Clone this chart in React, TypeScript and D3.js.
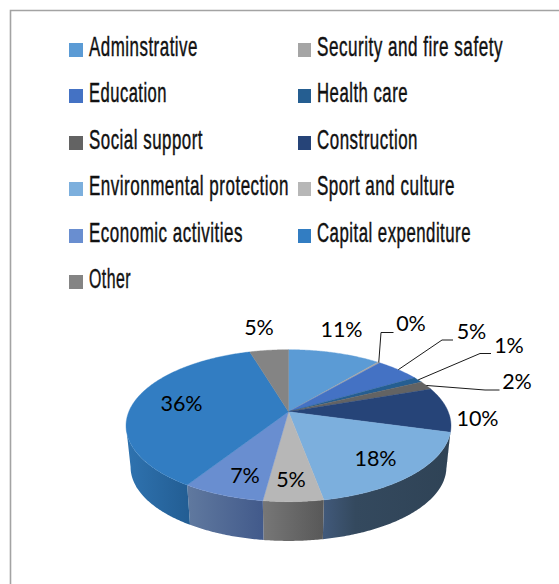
import React, { useLayoutEffect, useRef } from "react";
import * as d3 from "d3";

// Budget categories, in drawing order clockwise from twelve o'clock.
const categories = [
  "Adminstrative",
  "Security and fire safety",
  "Education",
  "Health care",
  "Social support",
  "Construction",
  "Environmental protection",
  "Sport and culture",
  "Economic activities",
  "Capital expenditure",
  "Other",
];

// Share of the total, in percent.
const shares = [11.0, 0.3, 5.3, 1.2, 1.9, 9.6, 17.8, 5.0, 6.9, 36.4, 4.6];

const topColors = [
  "#5b9bd5", "#a5a5a5", "#4472c4", "#255e91", "#636363", "#264478",
  "#7cafdd", "#b7b7b7", "#698ed0", "#327dc2", "#848484",
];

// Start and end colours of each slice's outer wall.
const wallStart = [
  "#3f7fb8", "#777777", "#32558f", "#1b4568", "#494949", "#1f3a63",
  "#41597a", "#777777", "#60799f", "#2f73b0", "#606060",
];
const wallEnd = [
  "#3f7fb8", "#777777", "#32558f", "#1b4568", "#494949", "#1d3557",
  "#2f4356", "#585858", "#425a8b", "#235e94", "#606060",
];

// Legend layout: two columns filled row by row.
const legendRows = [43, 89, 136, 182, 229, 275];
const legendColumns = [69, 298];
const legendSwatchWidths = [14, 13];
const legendTextOffsets = [20, 19];
const legendTextWidths = [109, 186, 78, 91, 114, 101, 200, 138, 154, 154, 42];

// Centre of each percent label.
const labelCentres: [number, number][] = [
  [341.5, 328.5], [411, 322.5], [471.5, 330.5], [509, 344.5], [517, 380.5], [477.5, 417.5],
  [375.5, 457.5], [291, 478.5], [245, 474.5], [181.5, 402.5], [259, 326.5],
];

// Elbow and end of the leader lines, keyed by slice index.
const leaders: Record<number, [[number, number], [number, number]]> = {
  1: [[381, 332.5], [393.5, 332.5]],
  2: [[442, 340], [453, 340]],
  3: [[480, 353.5], [491, 353.5]],
  4: [[485, 390], [499.5, 390]],
};

// Perspective disc: the far edge is foreshortened relative to the near edge.
const centreX = 288.5;
const topCentreY = 411.7;
const bottomCentreY = 453.5;
const radiusX = 159.7;
const radiusY = 73.4;
const perspective = 0.184;
const bottomScale = 0.972;

// Angles at which the rim turns away: only the wall between them can be seen.
const wallFrom = Math.acos(-perspective);
const wallTo = 2 * Math.PI - wallFrom;

const project = (theta: number, level: "top" | "bottom", r = 1): [number, number] => {
  const u = Math.sin(theta) * r;
  const v = -Math.cos(theta) * r;
  const s = 1 / (1 - perspective * v);
  const k = level === "top" ? 1 : bottomScale;
  const cy = level === "top" ? topCentreY : bottomCentreY;
  return [centreX + radiusX * k * u * s, cy + radiusY * k * v * s];
};

const slices = d3.pie<number>().sort(null).value((d) => d)(shares);
const line = d3.line();

const arcPoints = (a: number, b: number, level: "top" | "bottom") => {
  const n = Math.max(2, Math.ceil((b - a) / 0.01));
  return d3.range(n + 1).map((i) => project(a + ((b - a) * i) / n, level));
};

const wallRange = (a: number, b: number): [number, number] | null => {
  const from = Math.max(a, wallFrom);
  const to = Math.min(b, wallTo);
  return from < to ? [from, to] : null;
};

// A condensed legend label: narrowed horizontally to its measured target width.
function LegendLabel({ x, y, width, children }: { x: number; y: number; width: number; children: string }) {
  const ref = useRef<SVGTextElement>(null);
  useLayoutEffect(() => {
    const el = ref.current;
    if (!el) return;
    const natural = el.getComputedTextLength();
    el.setAttribute("transform", `translate(${x},${y}) scale(${width / natural},1)`);
  }, [x, y, width]);
  return (
    <text
      ref={ref}
      transform={`translate(${x},${y}) scale(0.6,1)`}
      fontFamily="'Liberation Sans Narrow', 'Liberation Sans'"
      fontSize={27}
      letterSpacing={0.8}
      fill="#111"
      stroke="#111"
      strokeWidth={0.45}
    >
      {children}
    </text>
  );
}

export default function App() {
  return (
    <svg
      width={559}
      height={584}
      style={{ position: "absolute", left: 0, top: 0, display: "block", background: "#fff" }}
    >
      <defs>
        {slices.map((s, i) => {
          const range = wallRange(s.startAngle, s.endAngle);
          if (!range) return null;
          const xs = arcPoints(range[0], range[1], "top").map((p) => p[0]);
          const [x0, x1] = d3.extent(xs) as [number, number];
          return (
            <linearGradient
              key={i}
              id={`wall-${i}`}
              gradientUnits="userSpaceOnUse"
              x1={x0}
              x2={x1}
              y1={0}
              y2={0}
            >
              <stop offset="0" stopColor={wallStart[i]} />
              {i === 6 && <stop offset="0.25" stopColor="#34495e" />}
              <stop offset="1" stopColor={wallEnd[i]} />
            </linearGradient>
          );
        })}
      </defs>

      <path d="M10.5 584V10.5H559" fill="none" stroke="#a3a3a3" strokeWidth={1.6} />

      {categories.map((name, i) => {
        const col = i % 2;
        const top = legendRows[Math.floor(i / 2)];
        const x = legendColumns[col];
        return (
          <g key={name}>
            <rect x={x} y={top} width={legendSwatchWidths[col]} height={14} fill={topColors[i]} />
            <LegendLabel x={x + legendTextOffsets[col]} y={top + 13} width={legendTextWidths[i]}>
              {name}
            </LegendLabel>
          </g>
        );
      })}

      {slices.map((s, i) => {
        const range = wallRange(s.startAngle, s.endAngle);
        if (!range) return null;
        const top = arcPoints(range[0], range[1], "top");
        const bottom = arcPoints(range[0], range[1], "bottom").reverse();
        return (
          <path key={i} d={line([...top, ...bottom]) + "Z"} fill={`url(#wall-${i})`} />
        );
      })}

      {slices.map((s, i) => {
        const rim = arcPoints(s.startAngle, s.endAngle, "top");
        const hub = project(0, "top", 0);
        return (
          <path
            key={i}
            d={line([hub, ...rim]) + "Z"}
            fill={topColors[i]}
            stroke={topColors[i]}
            strokeWidth={0.4}
          />
        );
      })}

      {slices.map((s, i) => {
        const bend = leaders[i];
        if (!bend) return null;
        const start = project((s.startAngle + s.endAngle) / 2, "top");
        return (
          <path key={i} d={line([start, ...bend]) ?? ""} fill="none" stroke="#1a1a1a" strokeWidth={1} />
        );
      })}

      {slices.map((s, i) => (
        <text
          key={i}
          x={labelCentres[i][0]}
          y={labelCentres[i][1]}
          textAnchor="middle"
          dominantBaseline="central"
          fontFamily="Lato, 'Noto Sans'"
          fontSize={21.5}
          fill="#000"
        >
          {`${d3.format(".0f")(s.value)}%`}
        </text>
      ))}
    </svg>
  );
}
